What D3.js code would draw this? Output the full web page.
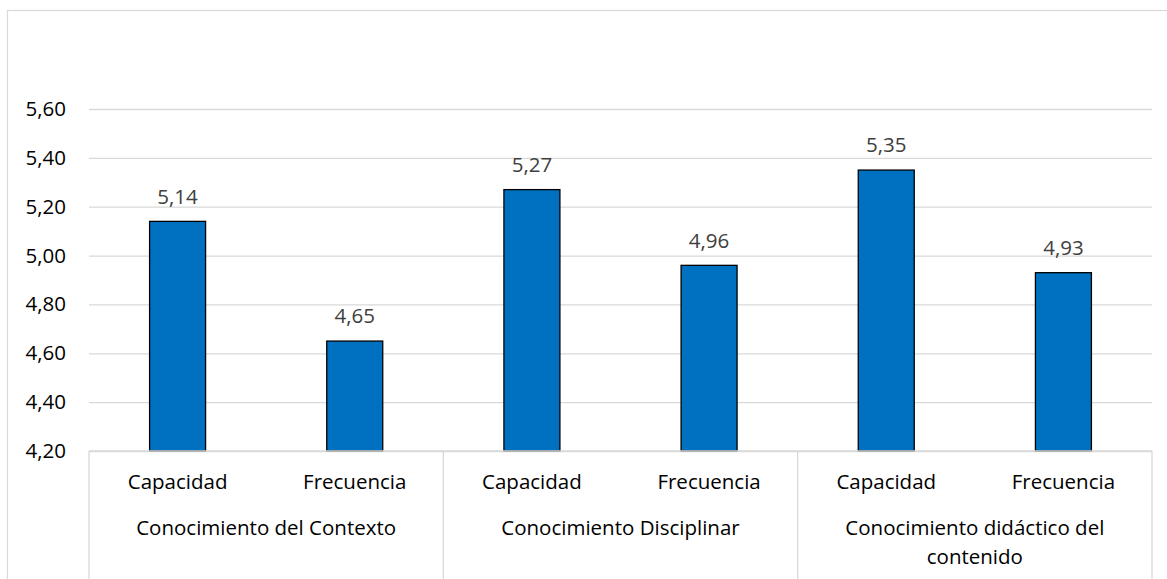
<!DOCTYPE html>
<html>
<head>
<meta charset="utf-8">
<script src="https://cdn.jsdelivr.net/npm/d3@7"></script>
<style>
  body { margin: 0; background: #fff; }
  svg text { font-family: "Open Sans", "Noto Sans", sans-serif; }
</style>
</head>
<body>
<svg id="chart" width="1167" height="579"></svg>
<script>
// data
const groups = ["Conocimiento del Contexto", "Conocimiento Disciplinar", "Conocimiento didáctico del contenido"];
const subCategories = ["Capacidad", "Frecuencia"];
const valuesCapacidad = [5.14, 5.27, 5.35];
const valuesFrecuencia = [4.65, 4.96, 4.93];
const yTicks = [4.2, 4.4, 4.6, 4.8, 5.0, 5.2, 5.4, 5.6];

const rows = [];
groups.forEach((g, i) => {
    rows.push({ group: g, sub: "Capacidad", value: valuesCapacidad[i] });
    rows.push({ group: g, sub: "Frecuencia", value: valuesFrecuencia[i] });
});

const svg = d3.select("#chart");
const width = 1167;
const height = 579;
const margin = { top: 109, right: 15, bottom: 128, left: 89 };
const fontSize = "20.5px";

const fmt = v => d3.format(".2f")(v).replace(".", ",");

// outer chart border
svg.append("rect")
    .attr("x", 7.5).attr("y", 10.5)
    .attr("width", width).attr("height", height)
    .attr("fill", "none")
    .attr("stroke", "#d9d9d9")
    .attr("stroke-width", 1.2);

const x0 = d3.scaleBand()
    .domain(groups)
    .range([margin.left, width - margin.right])
    .padding(0);

const x1 = d3.scaleBand()
    .domain(subCategories)
    .range([0, x0.bandwidth()])
    .paddingInner(0.684)
    .paddingOuter(0.342);

const y = d3.scaleLinear()
    .domain([4.2, 5.6])
    .range([height - margin.bottom, margin.top]);

// gridlines + y labels
const yAxis = svg.append("g")
    .attr("transform", `translate(${margin.left}, 0)`)
    .call(d3.axisLeft(y)
        .tickValues(yTicks)
        .tickSize(-(width - margin.left - margin.right))
        .tickPadding(23)
        .tickFormat(fmt));
yAxis.select(".domain").remove();
yAxis.selectAll("line").attr("stroke", "#d9d9d9").attr("stroke-width", 1.3);
yAxis.selectAll("text")
    .attr("fill", "#000")
    .style("font-size", fontSize);

// bars
svg.append("g")
    .selectAll("rect")
    .data(rows)
    .join("rect")
    .attr("x", d => x0(d.group) + x1(d.sub))
    .attr("y", d => y(d.value))
    .attr("width", x1.bandwidth())
    .attr("height", d => y(4.2) - y(d.value))
    .attr("fill", "#0070c0")
    .attr("stroke", "#000")
    .attr("stroke-width", 1.3);

// value labels
svg.append("g")
    .selectAll("text")
    .data(rows)
    .join("text")
    .attr("x", d => x0(d.group) + x1(d.sub) + x1.bandwidth() / 2)
    .attr("y", d => y(d.value) - 25)
    .attr("dy", "0.35em")
    .attr("text-anchor", "middle")
    .attr("fill", "#404040")
    .style("font-size", fontSize)
    .text(d => fmt(d.value));

// category axis line
const base = y(4.2);
svg.append("line")
    .attr("x1", margin.left).attr("x2", width - margin.right)
    .attr("y1", base).attr("y2", base)
    .attr("stroke", "#d9d9d9").attr("stroke-width", 1.3);

// group separators
const edges = groups.map(g => x0(g)).concat([x0(groups[groups.length - 1]) + x0.bandwidth()]);
svg.append("g")
    .selectAll("line")
    .data(edges)
    .join("line")
    .attr("x1", d => d).attr("x2", d => d)
    .attr("y1", base).attr("y2", height)
    .attr("stroke", "#d9d9d9").attr("stroke-width", 1.3);

// sub-category labels
svg.append("g")
    .selectAll("text")
    .data(rows)
    .join("text")
    .attr("x", d => x0(d.group) + x1(d.sub) + x1.bandwidth() / 2)
    .attr("y", 482)
    .attr("dy", "0.35em")
    .attr("text-anchor", "middle")
    .attr("fill", "#000")
    .style("font-size", fontSize)
    .text(d => d.sub);

// group labels (wrapped like the original)
const groupLines = {
    "Conocimiento del Contexto": ["Conocimiento del Contexto"],
    "Conocimiento Disciplinar": ["Conocimiento Disciplinar"],
    "Conocimiento didáctico del contenido": ["Conocimiento didáctico del", "contenido"]
};
groups.forEach(g => {
    const t = svg.append("text")
        .attr("text-anchor", "middle")
        .attr("fill", "#000")
        .style("font-size", fontSize);
    groupLines[g].forEach((line, i) => {
        t.append("tspan")
            .attr("x", x0(g) + x0.bandwidth() / 2)
            .attr("y", 528 + i * 29)
            .attr("dy", "0.35em")
            .text(line);
    });
});
</script>
</body>
</html>
